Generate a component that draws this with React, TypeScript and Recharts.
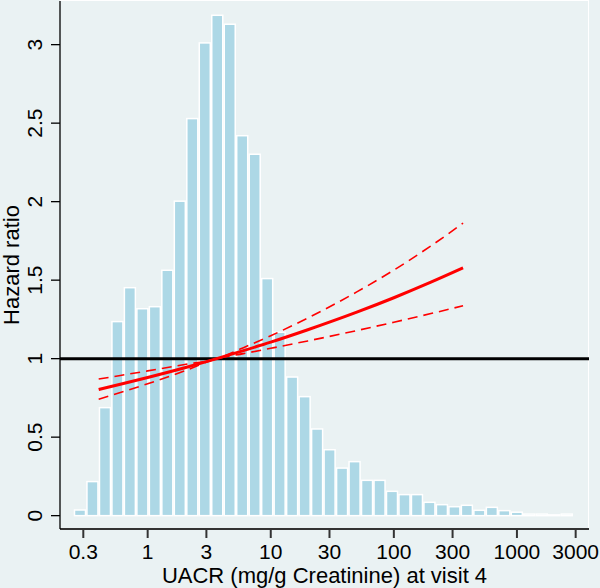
import React from 'react';
import { ComposedChart, Bar, Line, XAxis, YAxis, ReferenceLine } from 'recharts';

// histogram bins of UACR (bin centres, mg/g) and density height
const uacrBins = [0.282, 0.356, 0.45, 0.568, 0.717, 0.906, 1.144, 1.445, 1.825, 2.305, 2.911, 3.676, 4.643, 5.864, 7.406, 9.354, 11.81, 14.92, 18.85, 23.8, 30.06, 37.97, 47.96, 60.57, 76.5, 96.61, 122.0, 154.1, 194.6, 245.8, 310.5, 392.1, 495.3, 625.5, 790.0, 997.7, 1260, 1591, 2010, 2539];
const density = [0.036, 0.217, 0.688, 1.236, 1.452, 1.318, 1.331, 1.563, 2.003, 2.529, 3.011, 3.187, 3.13, 2.42, 2.302, 1.51, 1.168, 0.883, 0.758, 0.552, 0.42, 0.303, 0.344, 0.225, 0.225, 0.155, 0.134, 0.134, 0.085, 0.07, 0.057, 0.066, 0.034, 0.053, 0.032, 0.022, 0.01, 0.01, 0.005, 0.01];

// fitted hazard ratio with 95% CI
const curveX = [0.4, 0.6, 1, 2, 3.64, 6, 10, 20, 50, 100, 200, 365];
const hazard = [0.804, 0.837, 0.88, 0.942, 1.0, 1.051, 1.105, 1.184, 1.296, 1.388, 1.487, 1.578];
const upperCI = [0.87, 0.893, 0.922, 0.963, 1.0, 1.07, 1.146, 1.259, 1.425, 1.564, 1.718, 1.863];
const lowerCI = [0.742, 0.784, 0.84, 0.922, 1.0, 1.032, 1.066, 1.113, 1.179, 1.232, 1.287, 1.337];

const xTicks = [0.3, 1, 3, 10, 30, 100, 300, 1000, 3000];
const yTicks = [0, 0.5, 1, 1.5, 2, 2.5, 3];

const hist = uacrBins.map((x, i) => ({ x, density: density[i] }));
const curve = curveX.map((x, i) => ({ x, hr: hazard[i], hi: upperCI[i], lo: lowerCI[i] }));

const FONT = '"Liberation Sans", Arial, sans-serif';
const BG = '#EAF2F3';
const BAR_W = 11;

const XTick = (props: any) => {
  const { x, y, payload } = props;
  return (
    <text x={x} y={y + 19} textAnchor="middle" fontSize={21} fill="#000" fontFamily={FONT}>
      {payload.value}
    </text>
  );
};

const YTick = (props: any) => {
  const { x, y, payload } = props;
  const bx = x - 7;
  return (
    <text x={bx} y={y} transform={`rotate(-90 ${bx} ${y})`} textAnchor="middle" fontSize={21} fill="#000" fontFamily={FONT}>
      {payload.value}
    </text>
  );
};

// bar centred on the scaled bin centre, fixed width
const HistBar = (props: any) => {
  const { x, y, width, height } = props;
  if (x == null || y == null) return null;
  const cx = x + width / 2;
  const top = height < 0 ? y + height : y;
  return <rect x={cx - BAR_W / 2} y={top} width={BAR_W} height={Math.abs(height)} fill="#ADD8E6" stroke="#fff" strokeWidth={1.5} />;
};

export default function App() {
  return (
    <div style={{ width: 600, height: 588, background: BG, position: 'relative', fontFamily: FONT }}>
      <style>{'body{margin:0}'}</style>
      <div
        style={{
          position: 'absolute', left: 60, top: 0, width: 528, height: 528,
          borderTop: '1.5px solid #fff', borderRight: '1.5px solid #fff',
        }}
      />
      <div style={{ position: 'absolute', left: 0, top: 0 }}>
        <ComposedChart width={600} height={588} data={hist} margin={{ top: 1, right: 11, bottom: 0, left: 0 }}>
          <XAxis
            dataKey="x"
            type="number"
            scale="log"
            domain={[0.194, 3850]}
            allowDataOverflow
            ticks={xTicks}
            interval={0}
            height={59}
            tickSize={9}
            tick={<XTick />}
            axisLine={{ stroke: '#333', strokeWidth: 2 }}
            tickLine={{ stroke: '#333', strokeWidth: 2 }}
            label={{
              value: 'UACR (mg/g Creatinine) at visit 4',
              content: (p: any) => (
                <text x={p.viewBox.x + p.viewBox.width / 2} y={p.viewBox.y + 54} textAnchor="middle" fontSize={22} fill="#000" fontFamily={FONT}>
                  UACR (mg/g Creatinine) at visit 4
                </text>
              ),
            }}
          />
          <YAxis
            type="number"
            domain={[-0.085, 3.278]}
            allowDataOverflow
            ticks={yTicks}
            interval={0}
            width={60}
            tickSize={9}
            tick={<YTick />}
            axisLine={{ stroke: '#000', strokeWidth: 1.3 }}
            tickLine={{ stroke: '#000', strokeWidth: 1.3 }}
            label={{
              value: 'Hazard ratio',
              content: (p: any) => {
                const cy = p.viewBox.y + p.viewBox.height / 2;
                return (
                  <text x={19} y={cy} transform={`rotate(-90 19 ${cy})`} textAnchor="middle" fontSize={22} fill="#000" fontFamily={FONT}>
                    Hazard ratio
                  </text>
                );
              },
            }}
          />
          <Bar dataKey="density" shape={<HistBar />} isAnimationActive={false} />
          <ReferenceLine y={1} stroke="#000" strokeWidth={3} />
          <Line data={curve} dataKey="hi" type="monotone" stroke="#f00" strokeWidth={1.6} strokeDasharray="10 6" dot={false} isAnimationActive={false} />
          <Line data={curve} dataKey="lo" type="monotone" stroke="#f00" strokeWidth={1.6} strokeDasharray="10 6" dot={false} isAnimationActive={false} />
          <Line data={curve} dataKey="hr" type="monotone" stroke="#f00" strokeWidth={3} dot={false} isAnimationActive={false} />
        </ComposedChart>
      </div>
    </div>
  );
}
